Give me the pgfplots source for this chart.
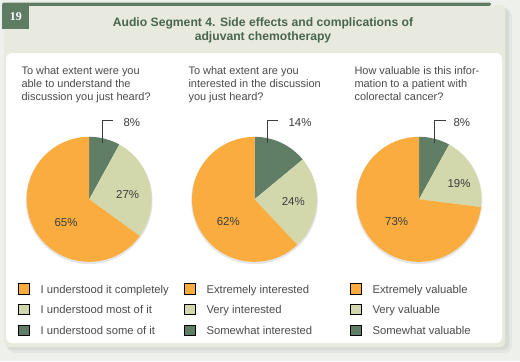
\documentclass[border=0pt]{standalone}
\usepackage{pgfplots}
\pgfplotsset{compat=1.18}
\usepackage{fontspec}
\setmainfont{Liberation Sans}
\newfontfamily\serifb{Liberation Serif}
\definecolor{cbg}{RGB}{238,240,235}
\definecolor{cbeige}{RGB}{233,234,223}
\definecolor{cgreen}{RGB}{94,124,100}
\definecolor{ctitle}{RGB}{72,102,78}
\definecolor{corange}{RGB}{250,173,62}
\definecolor{clight}{RGB}{211,216,172}
\definecolor{cdark}{RGB}{96,125,102}
\definecolor{ctext}{RGB}{75,75,75}
\definecolor{clab}{RGB}{60,60,60}

% pie: cx, cy, dark %, light %, orange %
\newcommand{\pie}[5]{\pgfplotsextra{%
  \pgfmathsetmacro\angA{90-3.6*#3}%
  \pgfmathsetmacro\angB{\angA-3.6*#4}%
  \pgfmathsetmacro\angC{\angB-3.6*#5}%
  \fill[black,opacity=0.10] (axis cs:#1,#2+1.5) circle[radius=63.3bp];
  \fill[cdark] (axis cs:#1,#2) -- ++(90:62.5bp) arc[start angle=90, end angle=\angA, radius=62.5bp] -- cycle;
  \fill[clight] (axis cs:#1,#2) -- ++(\angA:62.5bp) arc[start angle=\angA, end angle=\angB, radius=62.5bp] -- cycle;
  \fill[corange] (axis cs:#1,#2) -- ++(\angB:62.5bp) arc[start angle=\angB, end angle=\angC, radius=62.5bp] -- cycle;
}}

\begin{document}
\begin{tikzpicture}
\begin{axis}[x=1bp, y=1bp, xmin=0, xmax=520, ymin=0, ymax=361, y dir=reverse,
  hide axis, clip=false, at={(0,0)}, anchor=origin,
  every node/.style={inner sep=0pt, outer sep=0pt}]
% background and panels
\fill[cbg] (axis cs:0,0) rectangle (axis cs:520,361);
\fill[black,opacity=0.04,rounded corners=8bp] (axis cs:7,9) rectangle (axis cs:512,353);
\fill[black,opacity=0.05,rounded corners=6bp] (axis cs:6,7) rectangle (axis cs:509,350);
\fill[cbeige,rounded corners=5bp] (axis cs:4,5) rectangle (axis cs:505,347);
\fill[cgreen,rounded corners=1.5bp] (axis cs:2,2.5) rectangle (axis cs:491,5.8);
\fill[cgreen] (axis cs:2,5) rectangle (axis cs:29,29);
\node[anchor=base,text=white,font=\serifb\bfseries\fontsize{12}{14}\selectfont] at (axis cs:15.8,20.5) {19};
\fill[white,rounded corners=6bp] (axis cs:6,53) rectangle (axis cs:502,343);
% title
\node[anchor=base,text=ctitle,font=\bfseries\fontsize{12.2}{14}\selectfont] at (axis cs:263,26.7) {Audio Segment 4. Side effects and complications of};
\node[anchor=base,text=ctitle,font=\bfseries\fontsize{12.2}{14}\selectfont] at (axis cs:263,40.2) {adjuvant chemotherapy};
% questions
\begin{scope}[every node/.append style={anchor=base west,text=ctext,font=\fontsize{11}{13}\selectfont}]
\node at (axis cs:18,74) {To what extent were you};
\node at (axis cs:18,87.4) {able to understand the};
\node at (axis cs:18,100.8) {discussion you just heard?};
\node at (axis cs:185,74) {To what extent are you};
\node at (axis cs:185,87.4) {interested in the discussion};
\node at (axis cs:185,100.8) {you just heard?};
\node at (axis cs:351,74) {How valuable is this infor-};
\node at (axis cs:351,87.4) {mation to a patient with};
\node at (axis cs:351,100.8) {colorectal cancer?};
\end{scope}
% pies
\pie{89.2}{199.3}{8}{27}{65}
\pie{254.5}{199.3}{14}{24}{62}
\pie{419}{199.3}{8}{19}{73}
% leader lines
\draw[clab,line width=0.9bp] (axis cs:102.7,142.5) -- (axis cs:102.7,120.3) -- (axis cs:113.3,120.3);
\draw[clab,line width=0.9bp] (axis cs:267.7,142.5) -- (axis cs:267.7,120.3) -- (axis cs:278.3,120.3);
\draw[clab,line width=0.9bp] (axis cs:434.3,142.5) -- (axis cs:434.3,120.3) -- (axis cs:446,120.3);
% percent labels
\begin{scope}[every node/.append style={anchor=base west,text=clab,font=\fontsize{11.5}{13}\selectfont}]
\node at (axis cs:120,126) {8\%};
\node at (axis cs:112.7,198.5) {27\%};
\node at (axis cs:51,226) {65\%};
\node at (axis cs:285,126) {14\%};
\node at (axis cs:278.3,205.7) {24\%};
\node at (axis cs:213.3,225.7) {62\%};
\node at (axis cs:450,126) {8\%};
\node at (axis cs:444,187.7) {19\%};
\node at (axis cs:381.7,225.7) {73\%};
\end{scope}
% legend markers
\addplot[only marks, mark=square*, mark size=5.2bp, mark options={draw=none, fill=corange}] coordinates {(23.5,288.5) (189.5,288.5) (355.5,288.5)};
\addplot[only marks, mark=square*, mark size=5.2bp, mark options={draw=none, fill=clight}] coordinates {(23.5,309) (189.5,309) (355.5,309)};
\addplot[only marks, mark=square*, mark size=5.2bp, mark options={draw=none, fill=cdark}] coordinates {(23.5,330) (189.5,330) (355.5,330)};
% legend texts
\begin{scope}[every node/.append style={anchor=base west,text=ctext,font=\fontsize{11.3}{13}\selectfont}]
\node at (axis cs:37,293) {I understood it completely};
\node at (axis cs:37,313.5) {I understood most of it};
\node at (axis cs:37,334.3) {I understood some of it};
\node at (axis cs:203,293) {Extremely interested};
\node at (axis cs:203,313.5) {Very interested};
\node at (axis cs:203,334.3) {Somewhat interested};
\node at (axis cs:369,293) {Extremely valuable};
\node at (axis cs:369,313.5) {Very valuable};
\node at (axis cs:369,334.3) {Somewhat valuable};
\end{scope}
\end{axis}
\end{tikzpicture}
\end{document}
